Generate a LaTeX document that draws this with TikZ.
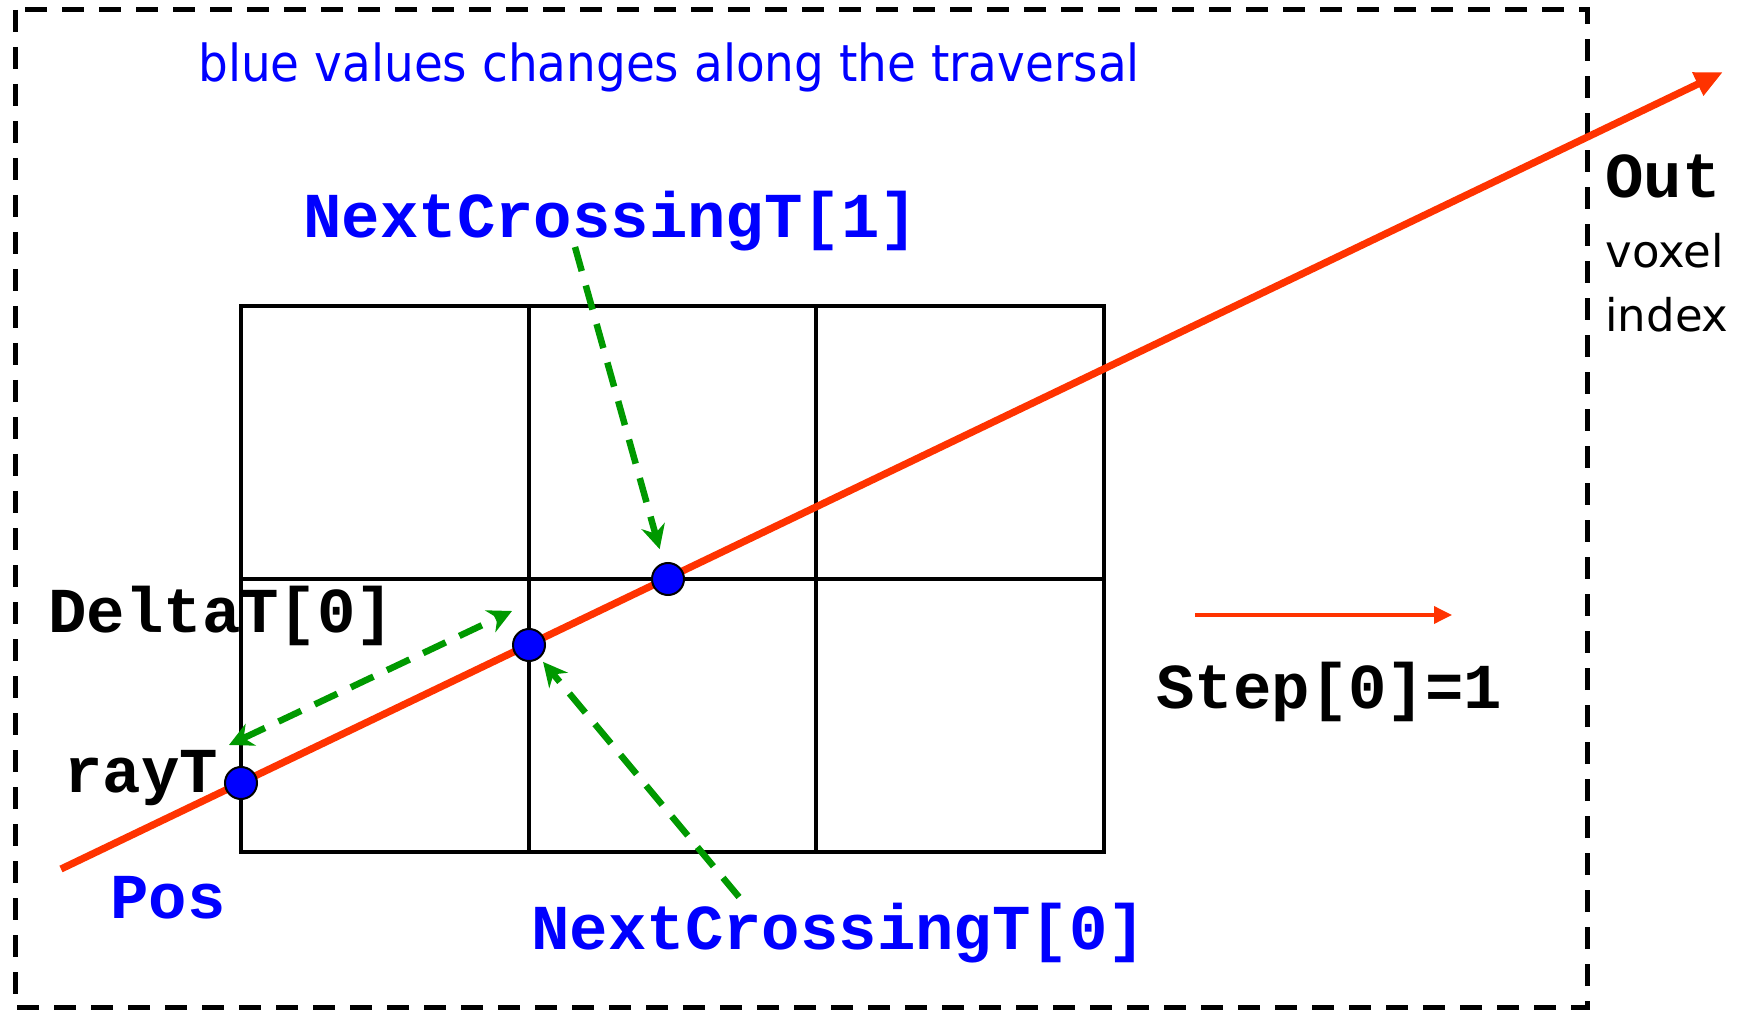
\documentclass[tikz,border=0pt]{standalone}
\usepackage{fontspec}
\setmainfont{DejaVu Sans}
\newfontfamily\codefont{Liberation Mono}
\newfontfamily\notefont[FakeStretch=0.92]{DejaVu Sans}
\usetikzlibrary{arrows.meta}
\definecolor{rayred}{RGB}{255,51,0}
\definecolor{pathgreen}{RGB}{0,153,0}
\definecolor{valblue}{RGB}{0,0,255}

\begin{document}
\begin{tikzpicture}[x=0.5pt, y=-0.5pt,
        monotext/.style={font=\codefont\bfseries\fontsize{32}{38}\selectfont, anchor=base west, inner sep=0pt},
        bluetext/.style={monotext, text=valblue},
        hitdot/.style={circle, draw=black, line width=1pt, fill=valblue, minimum size=16pt, inner sep=0pt},
        cell/.style={line width=2.25pt},
        crossing/.style={pathgreen, line width=3.25pt, dash pattern=on 12.5pt off 7.5pt, >={Stealth[length=12pt,width=12pt]}}]
        \useasboundingbox (0,0) rectangle (1746,1010);

        \draw[line width=2.5pt, dash pattern=on 11pt off 7.5pt] (15,10) rectangle (1587,1007);

        \draw[cell] (241,306) rectangle (1104,852);
        \draw[cell] (241,579) -- (1104,579);
        \foreach \x in {529,816}
            \draw[cell] (\x,306) -- (\x,852);

        \coordinate (raystart) at (61,869);
        \coordinate (rayend) at (1723,72);
        \draw[rayred, line width=3.6pt, -{Triangle[length=14pt,width=12pt]}] (raystart) -- (rayend);

        \node[hitdot] (rayt) at (241,783) {};
        \node[hitdot] (cross0) at (529,645) {};
        \node[hitdot] (cross1) at (668,579) {};

        \node[font=\notefont\fontsize{25.5}{30}\selectfont, text=valblue, anchor=base west, inner sep=0pt] (note) at (198,82) {blue values changes along the traversal};
        \node[monotext] (out) at (1605,198) {Out};
        \node[font=\fontsize{22.5}{32}\selectfont, align=left, anchor=base west, inner sep=0pt] (voxel) at (1605,332) {voxel\\index};
        \node[bluetext] (nct1) at (303,238) {NextCrossingT[1]};
        \node[bluetext] (nct0) at (531,949) {NextCrossingT[0]};
        \node[monotext] (delta) at (48,632) {DeltaT[0]};
        \node[monotext] (raylbl) at (64,792) {rayT};
        \node[bluetext] (pos) at (110,918) {Pos};
        \node[monotext] (steplbl) at (1156,708) {Step[0]=1};

        \coordinate (from1) at (575,247);
        \coordinate (from0) at (739,897);
        \coordinate (dstart) at (229,745);
        \coordinate (dend) at (512,611);
        \draw[crossing, ->, shorten >=7pt] (from1) -- (cross1);
        \draw[crossing, ->, shorten >=2.5pt] (from0) -- (cross0);
        \draw[crossing, <->] (dstart) -- (dend);

        \coordinate (stepa) at (1195,615);
        \coordinate (stepb) at (1452,615);
        \draw[rayred, line width=1.75pt, -{Triangle[length=9pt,width=8.5pt]}] (stepa) -- (stepb);

    \end{tikzpicture}
\end{document}
